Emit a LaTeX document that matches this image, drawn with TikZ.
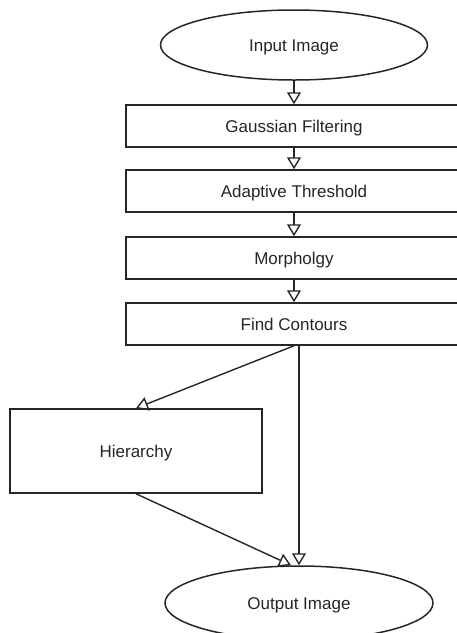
\documentclass[tikz,border=0pt]{standalone}
\usepackage{fontspec}
\setmainfont{Liberation Sans}
\usetikzlibrary{shapes.geometric,arrows.meta}
\begin{document}
\begin{tikzpicture}[x=1pt,y=-1pt,
  every node/.style={font=\fontsize{17}{20}\selectfont, text=black!85, text height=12pt, text depth=0pt},
  box/.style={draw=black!85, line width=1.5pt, fill=white, rectangle, inner sep=0pt},
  oval/.style={draw=black!85, line width=1.5pt, fill=white, ellipse, inner sep=0pt},
  flow/.style={draw=black!85, line width=1.4pt, -{Triangle[open, length=12pt, width=14pt]}}]
\useasboundingbox (0,0) rectangle (457,633);
\clip (0,0) rectangle (457,633);
\node[oval, minimum width=267pt, minimum height=70pt] (in) at (294,45) {Input Image};
\node[box, minimum width=336pt, minimum height=42pt] (gf) at (294,126) {Gaussian Filtering};
\node[box, minimum width=336pt, minimum height=42pt] (at) at (294,191) {Adaptive Threshold};
\node[box, minimum width=336pt, minimum height=42pt] (mo) at (294,258) {Morpholgy};
\node[box, minimum width=336pt, minimum height=42pt] (fc) at (294,324) {Find Contours};
\node[box, minimum width=252pt, minimum height=84pt] (hi) at (136,451) {Hierarchy};
\node[oval, minimum width=268pt, minimum height=74pt] (out) at (299,603) {Output Image};
\coordinate (outl) at ([xshift=-8pt]out.north);
\draw[flow] (in.south) -- (gf.north);
\draw[flow] (gf.south) -- (at.north);
\draw[flow] (at.south) -- (mo.north);
\draw[flow] (mo.south) -- (fc.north);
\draw[flow] (fc.south) -- (hi.north);
\draw[flow] (fc.south -| out.north) -- (out.north);
\draw[flow] (hi.south) -- (outl);
\end{tikzpicture}
\end{document}
